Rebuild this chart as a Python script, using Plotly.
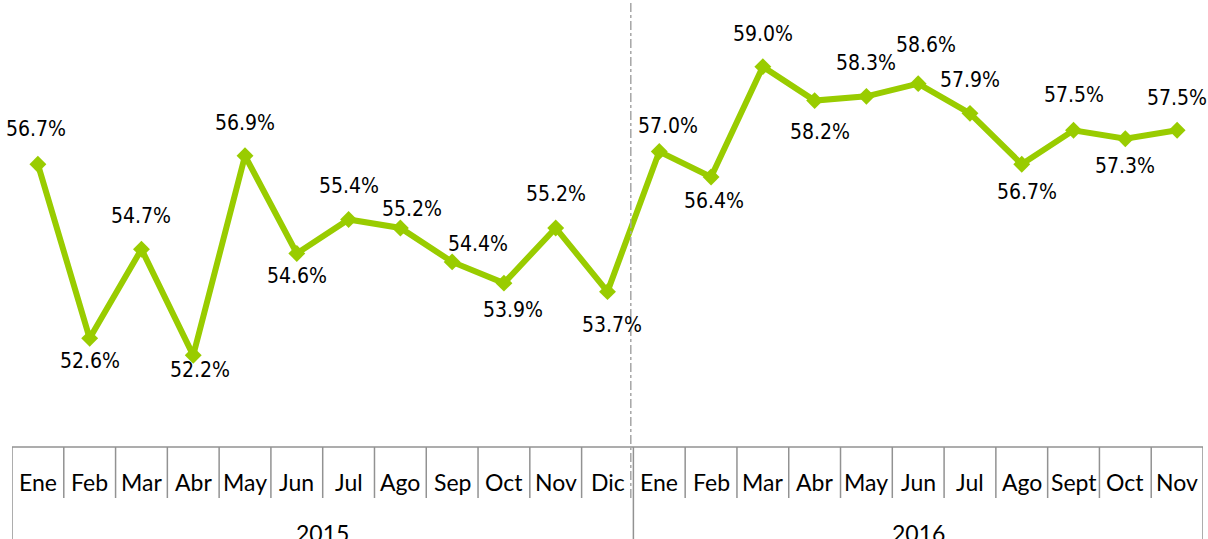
import plotly.graph_objects as go

# Monthly series, Jan 2015 - Nov 2016
months = ["Ene", "Feb", "Mar", "Abr", "May", "Jun", "Jul", "Ago", "Sep", "Oct", "Nov", "Dic",
          "Ene", "Feb", "Mar", "Abr", "May", "Jun", "Jul", "Ago", "Sept", "Oct", "Nov"]
years = ["2015", "2016"]
year_counts = [12, 11]
values = [56.7, 52.6, 54.7, 52.2, 56.9, 54.6, 55.4, 55.2, 54.4, 53.9, 55.2, 53.7,
          57.0, 56.4, 59.0, 58.2, 58.3, 58.6, 57.9, 56.7, 57.5, 57.3, 57.5]

# Data label placement (pixel offsets from each marker; positive dy = below)
label_dx = [-2, 0, 0, 7, 0, 0, 0, 12, 26, 9, 0, 4,
            9, 3, 0, 5, 0, 8, 0, 5, 0, 0, 0]
label_dy = [-35, 23, -33, 15, -33, 23, -33, -19, -18, 27, -34, 33,
            -26, 24, -33, 31, -33, -39, -33, 28, -35, 27, -32]

W, H = 1208, 539
PLOT_TOP, PLOT_BOTTOM = 0, 447
plot_h = PLOT_BOTTOM - PLOT_TOP


def paper_y(px):
    """Convert a pixel row of the page into paper coordinates."""
    return (PLOT_BOTTOM - px) / plot_h


GREEN = "#99CC00"
GRID = "#929292"
LABEL_FONT = dict(family="DejaVu Sans Condensed, DejaVu Sans", size=21, color="#000000")
AXIS_FONT = dict(family="Lato, Open Sans, sans-serif", size=23, color="#000000")

x = list(range(len(values)))

fig = go.Figure()
fig.add_trace(go.Scatter(
    x=x, y=values,
    mode="lines+markers",
    line=dict(color=GREEN, width=6),
    marker=dict(symbol="diamond", size=13, color=GREEN),
    hoverinfo="skip",
    showlegend=False,
))

annotations = []
for i, v in enumerate(values):
    annotations.append(dict(
        x=i, y=v, xref="x", yref="y",
        text=f"{v:.1f}%", showarrow=False,
        xshift=label_dx[i], yshift=-label_dy[i],
        font=LABEL_FONT, xanchor="center", yanchor="middle",
    ))

# Month row labels
for i, m in enumerate(months):
    annotations.append(dict(
        x=i, y=paper_y(482), xref="x", yref="paper",
        text=m, showarrow=False, font=AXIS_FONT,
        xanchor="center", yanchor="middle",
    ))

# Year row labels, centred under their months
start = 0
year_bounds = [-0.5]
for yr, n in zip(years, year_counts):
    annotations.append(dict(
        x=start + (n - 1) / 2, y=paper_y(533), xref="x", yref="paper",
        text=yr, showarrow=False, font=AXIS_FONT,
        xanchor="center", yanchor="middle",
    ))
    start += n
    year_bounds.append(start - 0.5)

shapes = []
# Top border of the category table
shapes.append(dict(type="line", xref="x", yref="paper",
                   x0=-0.5, x1=len(values) - 0.5, y0=0, y1=0,
                   line=dict(color=GRID, width=1.5)))
# Month cell dividers
for b in range(1, len(values)):
    xb = b - 0.5
    if xb in year_bounds:
        continue
    shapes.append(dict(type="line", xref="x", yref="paper",
                       x0=xb, x1=xb, y0=0, y1=paper_y(498),
                       line=dict(color=GRID, width=1.5)))
# Year dividers run the full height of the table
for xb in year_bounds:
    shapes.append(dict(type="line", xref="x", yref="paper",
                       x0=xb, x1=xb, y0=0, y1=paper_y(H),
                       line=dict(color=GRID, width=1.5)))
# Dash-dot separator between the two years
shapes.append(dict(type="line", xref="x", yref="paper",
                   x0=year_bounds[1] - 0.05, x1=year_bounds[1] - 0.05,
                   y0=paper_y(498), y1=1,
                   line=dict(color="#A6A6A6", width=1.5, dash="dashdot")))

fig.update_layout(
    width=W, height=H,
    margin=dict(l=12, r=5, t=PLOT_TOP, b=H - PLOT_BOTTOM, pad=0),
    paper_bgcolor="white", plot_bgcolor="white",
    xaxis=dict(range=[-0.5, len(values) - 0.5], visible=False, fixedrange=True),
    yaxis=dict(range=[50.04, 60.57], visible=False, fixedrange=True),
    annotations=annotations,
    shapes=shapes,
)

fig.write_html("out.html")
